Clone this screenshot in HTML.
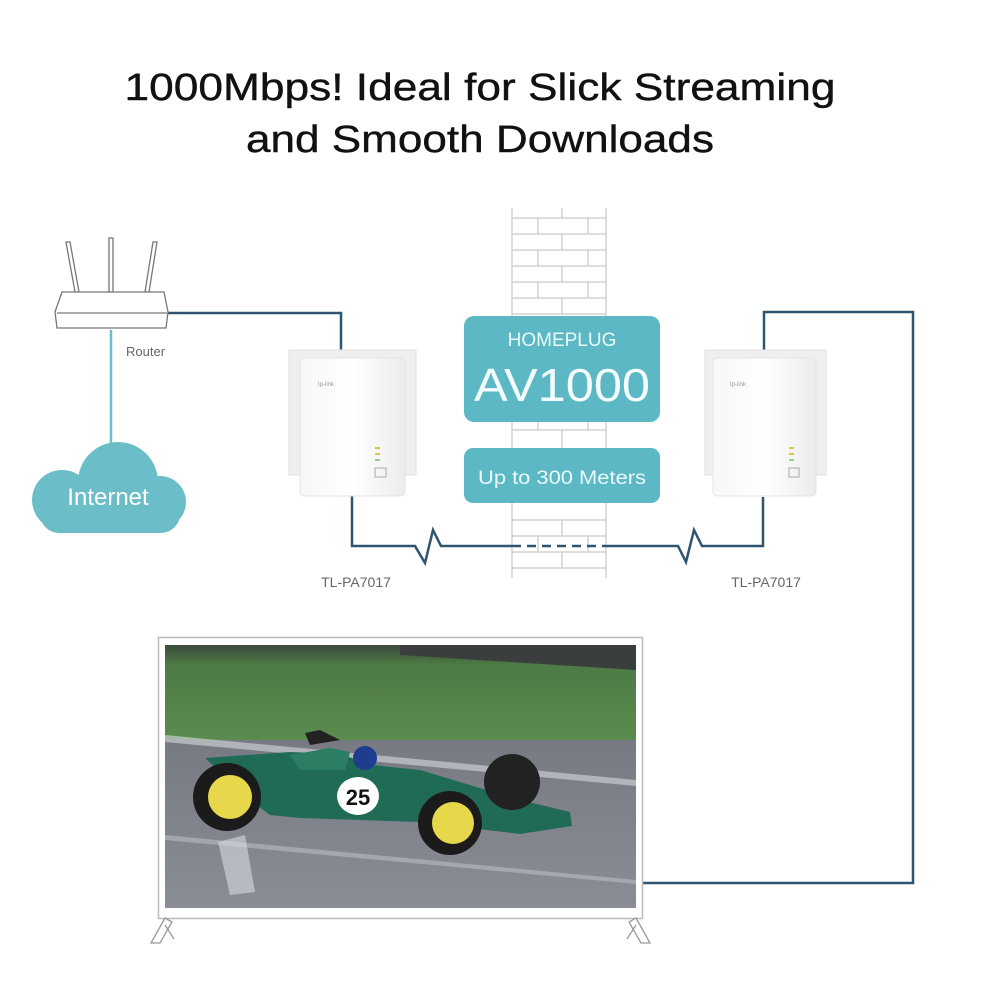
<!DOCTYPE html>
<html><head><meta charset="utf-8"><style>
html,body{margin:0;padding:0;background:#fff;}
svg{display:block;font-family:"Liberation Sans",sans-serif;}
</style></head><body>
<svg width="1000" height="988" viewBox="0 0 1000 988" xmlns="http://www.w3.org/2000/svg">
<defs>
<linearGradient id="ad" x1="0" y1="0" x2="1" y2="0"><stop offset="0" stop-color="#f7f7f7"/><stop offset="0.5" stop-color="#fff"/><stop offset="1" stop-color="#ececec"/></linearGradient>
<linearGradient id="grass" x1="0" y1="0" x2="0" y2="1"><stop offset="0" stop-color="#3a4a3c"/><stop offset="0.2" stop-color="#4d7a45"/><stop offset="1" stop-color="#5b8c4e"/></linearGradient>
<linearGradient id="track" x1="0" y1="0" x2="0" y2="1"><stop offset="0" stop-color="#6c6f78"/><stop offset="1" stop-color="#8a8d96"/></linearGradient>
</defs>
<text x="480" y="100" text-anchor="middle" font-size="38" fill="#111" stroke="#111" stroke-width="0.4" textLength="711" lengthAdjust="spacingAndGlyphs">1000Mbps! Ideal for Slick Streaming</text>
<text x="480" y="152" text-anchor="middle" font-size="38" fill="#111" stroke="#111" stroke-width="0.4" textLength="468" lengthAdjust="spacingAndGlyphs">and Smooth Downloads</text>

<!-- wall -->
<g stroke="#c9c9c9" stroke-width="1.2" fill="none">
<line x1="512" y1="208" x2="512" y2="578"/><line x1="606" y1="208" x2="606" y2="578"/>
<path d="M512 218H606M512 234H606M512 250H606M512 266H606M512 282H606M512 298H606M512 314H606M512 430H606M512 520H606M512 536H606M512 552H606M512 568H606"/>
<path d="M562 208V218M538 218V234M588 218V234M562 234V250M538 250V266M588 250V266M562 266V282M538 282V298M588 282V298M562 298V314M562 520V536M538 536V552M588 536V552M562 552V568M538 422V430M588 422V430M562 430V448"/>
</g>

<!-- lines -->
<g fill="none" stroke-linejoin="miter">
<line x1="111" y1="330" x2="111" y2="450" stroke="#6bbdc8" stroke-width="2.5"/>
<path d="M165 313H341V352" stroke="#2e5470" stroke-width="2.5"/>
<path d="M352 490V546H415L425 563L433 530L441 546H512" stroke="#2e5470" stroke-width="2.5"/>
<path d="M512 546H606" stroke="#2e5470" stroke-width="2.5" stroke-dasharray="9,6"/>
<path d="M606 546H678L686 562L694 530L702 546H763V497" stroke="#2e5470" stroke-width="2.5"/>
<path d="M764 352V312H913V883H641" stroke="#2e5470" stroke-width="2.5"/>
</g>

<!-- router -->
<g stroke="#777" stroke-width="1.3" fill="#fff">
<path d="M66 242L75 292L79 292L70 242Z"/>
<rect x="109" y="238" width="4" height="54"/>
<path d="M153 242L145 292L149 292L157 242Z"/>
<path d="M62 292H164L168 312L166 328H57L55 312Z"/>
<line x1="57" y1="313" x2="167" y2="313"/>
</g>
<text x="126" y="356" font-size="13" fill="#666">Router</text>

<!-- cloud -->
<g fill="#6bbdc8">
<circle cx="62" cy="500" r="30"/>
<circle cx="118" cy="482" r="40"/>
<circle cx="160" cy="502" r="26"/>
<rect x="40" y="495" width="140" height="38" rx="19"/>
</g>
<text x="108" y="505" text-anchor="middle" font-size="24" fill="#fff">Internet</text>

<!-- adapters -->
<g>
<rect x="289" y="350" width="127" height="125" fill="#efefef" stroke="#e2e2e2"/>
<rect x="300" y="358" width="105" height="138" rx="4" fill="url(#ad)" stroke="#e4e4e4"/>
<text x="318" y="386" font-size="6" fill="#999">tp-link</text>
<rect x="375" y="447" width="5" height="2" fill="#d8c840"/><rect x="375" y="453" width="5" height="2" fill="#d8c840"/><rect x="375" y="459" width="5" height="2" fill="#9c9"/>
<rect x="375" y="468" width="11" height="9" fill="none" stroke="#aaa"/>
<rect x="705" y="350" width="121" height="125" fill="#efefef" stroke="#e2e2e2"/>
<rect x="713" y="358" width="103" height="138" rx="4" fill="url(#ad)" stroke="#e4e4e4"/>
<text x="730" y="386" font-size="6" fill="#999">tp-link</text>
<rect x="789" y="447" width="5" height="2" fill="#d8c840"/><rect x="789" y="453" width="5" height="2" fill="#d8c840"/><rect x="789" y="459" width="5" height="2" fill="#9c9"/>
<rect x="789" y="468" width="10" height="9" fill="none" stroke="#aaa"/>
</g>
<text x="356" y="587" text-anchor="middle" font-size="14" fill="#666">TL-PA7017</text>
<text x="766" y="587" text-anchor="middle" font-size="14" fill="#666">TL-PA7017</text>

<!-- boxes -->
<rect x="464" y="316" width="196" height="106" rx="10" fill="#5cb8c4"/>
<text x="562" y="346" text-anchor="middle" font-size="19" fill="#eafafc">HOMEPLUG</text>
<text x="562" y="401" text-anchor="middle" font-size="46" fill="#f4fdff" textLength="176" lengthAdjust="spacingAndGlyphs">AV1000</text>
<rect x="464" y="448" width="196" height="55" rx="9" fill="#5cb8c4"/>
<text x="562" y="484" text-anchor="middle" font-size="19" fill="#eafafc" textLength="168" lengthAdjust="spacingAndGlyphs">Up to 300 Meters</text>

<!-- TV -->
<rect x="158.5" y="637.5" width="484" height="281" fill="#fff" stroke="#bbb" stroke-width="1.5"/>
<rect x="165" y="645" width="471" height="263" fill="url(#track)"/>
<rect x="165" y="645" width="471" height="95" fill="url(#grass)"/>
<path d="M400 645H636V670L400 655Z" fill="#3a3f3e"/>
<path d="M165 735L636 780V786L165 742Z" fill="#c9ccd2" opacity="0.7"/>
<path d="M165 835L636 880V884L165 840Z" fill="#b9bcc4" opacity="0.6"/>
<!-- car -->
<g>
<path d="M205 758L290 752L340 754L372 765L420 770L520 800L570 812L572 826L520 834L420 822L300 818L270 815L250 800L218 770Z" fill="#1f6b55"/>
<path d="M290 755L330 748L350 752L345 770L300 770Z" fill="#2b7d63"/>
<circle cx="365" cy="758" r="12" fill="#1e3d8f"/>
<circle cx="512" cy="782" r="28" fill="#222"/>
<ellipse cx="358" cy="796" rx="21" ry="19" fill="#fff"/>
<text x="358" y="805" text-anchor="middle" font-size="22" font-weight="bold" fill="#111">25</text>
<circle cx="227" cy="797" r="34" fill="#1b1b1b"/><circle cx="230" cy="797" r="22" fill="#e6d84a"/>
<circle cx="450" cy="823" r="32" fill="#1b1b1b"/><circle cx="453" cy="823" r="21" fill="#e6d84a"/>
<path d="M305 733L320 730L340 740L310 745Z" fill="#222"/>
</g>
<path d="M218 842L245 835L255 892L230 895Z" fill="#d8dbe2" opacity="0.6"/>
<!-- stand -->
<g stroke="#999" stroke-width="1.3" fill="#fff">
<path d="M165 918L151 943H160L172 922Z"/><path d="M165 925L174 939"/>
<path d="M636 918L650 943H641L629 922Z"/><path d="M636 925L627 939"/>
</g>
</svg>
</body></html>
